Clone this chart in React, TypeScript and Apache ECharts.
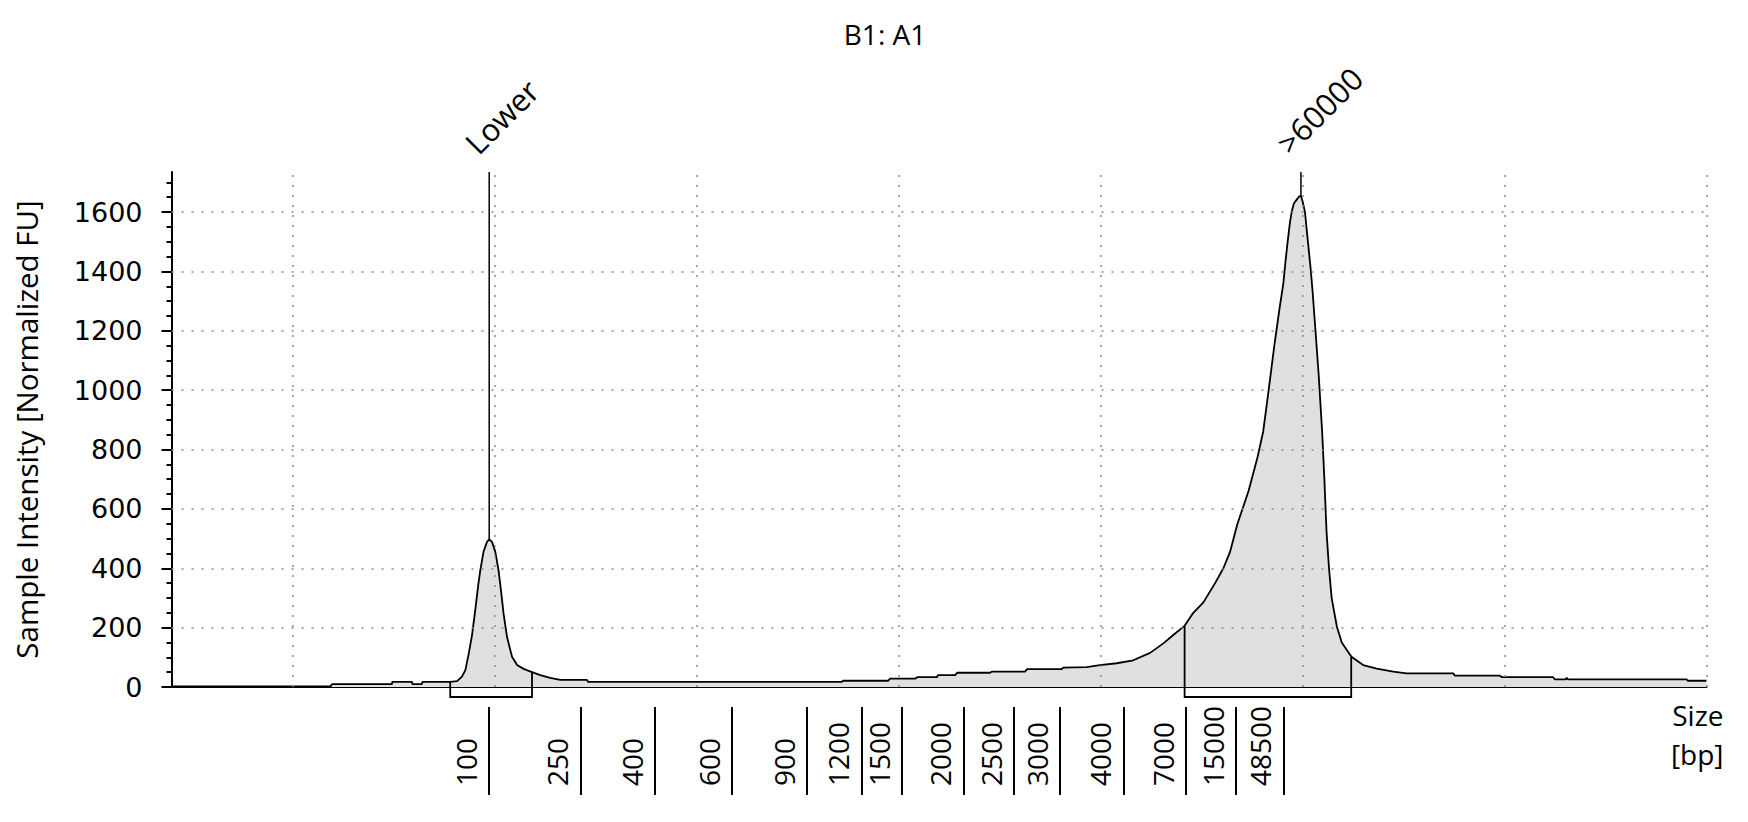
import React, { useEffect, useRef } from 'react';
import * as echarts from 'echarts';

const TITLE = 'B1: A1';
const Y_TITLE = 'Sample Intensity [Normalized FU]';
const X_TITLE = 'Size\n[bp]';

// migration position (grid units) and normalized intensity of the trace
const curvePos = [-0.6, 0.187, 0.196, 0.492, 0.493, 0.591, 0.592, 0.640, 0.642, 0.780, 0.814, 0.838, 0.855, 0.871, 0.888, 0.904, 0.919, 0.929, 0.945, 0.962, 0.973, 0.987, 1.003, 1.019, 1.031, 1.044, 1.061, 1.086, 1.111, 1.143, 1.185, 1.226, 1.275, 1.325, 1.457, 1.463, 2.719, 2.725, 2.948, 2.958, 3.082, 3.092, 3.189, 3.196, 3.280, 3.290, 3.453, 3.463, 3.626, 3.636, 3.808, 3.814, 3.931, 3.997, 4.080, 4.162, 4.245, 4.311, 4.360, 4.416, 4.459, 4.509, 4.567, 4.608, 4.641, 4.677, 4.733, 4.777, 4.805, 4.832, 4.860, 4.887, 4.905, 4.915, 4.926, 4.938, 4.946, 4.957, 4.971, 4.984, 4.992, 5.001, 5.012, 5.020, 5.030, 5.040, 5.050, 5.064, 5.080, 5.097, 5.108, 5.119, 5.131, 5.144, 5.170, 5.194, 5.242, 5.300, 5.367, 5.449, 5.515, 5.746, 5.754, 5.977, 5.987, 6.241, 6.249, 6.303, 6.308, 6.313, 6.901, 6.907, 7.0];
const curveVal = [2, 2, 10, 10, 17, 17, 10, 10, 17, 17, 20, 35, 57, 110, 175, 260, 345, 394, 456, 489, 497, 489, 456, 394, 327, 248, 169, 102, 74, 61, 50, 40, 31, 24, 24, 17, 17, 21, 21, 28, 28, 33, 33, 40, 40, 48, 48, 52, 52, 60, 60, 65, 67, 74, 80, 90, 115, 147, 175, 206, 250, 285, 350, 400, 455, 548, 661, 774, 860, 999, 1149, 1280, 1360, 1430, 1499, 1567, 1600, 1629, 1642, 1653, 1655, 1634, 1600, 1544, 1477, 1410, 1330, 1200, 1050, 860, 700, 520, 400, 300, 203, 150, 102, 74, 62, 52, 46, 46, 38, 38, 33, 33, 26, 26, 31, 26, 26, 21, 21];

const yMajor = [0, 200, 400, 600, 800, 1000, 1200, 1400, 1600];
const yMinor = [50, 100, 150, 250, 300, 350, 450, 500, 550, 650, 700, 750, 850, 900, 950, 1050, 1100, 1150, 1250, 1300, 1350, 1450, 1500, 1550, 1650, 1700];
const gridPos = [0, 1, 2, 3, 4, 5, 6, 7];

const ladderLabels = ['100', '250', '400', '600', '900', '1200', '1500', '2000', '2500', '3000', '4000', '7000', '15000', '48500'];
const ladderPos = [0.973, 1.425, 1.792, 2.175, 2.547, 2.816, 3.016, 3.321, 3.572, 3.799, 4.113, 4.421, 4.669, 4.905];

const markerNames = ['Lower', '>60000'];
const markerPos = [0.973, 4.992];
const markerPeak = [497, 1655];

const regionStart = [0.780, 4.416];
const regionEnd = [1.185, 5.241];

const X_MIN = -0.6;
const X_MAX = 7;
const Y_MAX = 1735;

function interp(x: number): number {
  for (let i = 0; i < curvePos.length - 1; i++) {
    if (x >= curvePos[i] && x <= curvePos[i + 1]) {
      const t = (x - curvePos[i]) / (curvePos[i + 1] - curvePos[i] || 1);
      return curveVal[i] + t * (curveVal[i + 1] - curveVal[i]);
    }
  }
  return 0;
}

export default function App() {
  const ref = useRef<HTMLDivElement>(null);
  useEffect(() => {
    if (!ref.current) return;
    const chart = echarts.init(ref.current, null, { renderer: 'svg' });
    const SEGOE = '"Open Sans", "Noto Sans", sans-serif';
    const TAHOMA = '"DejaVu Sans", Verdana, sans-serif';
    const curve = curvePos.map((p, i) => [p, curveVal[i]]);
    const regions = regionStart.map((s, i) => [s, regionEnd[i], interp(s), interp(regionEnd[i])]);
    const markers = markerPos.map((p, i) => [p, markerPeak[i]]);

    const option: any = {
      animation: false,
      backgroundColor: '#ffffff',
      title: {
        text: TITLE,
        left: 880,
        top: 15,
        textAlign: 'center',
        textStyle: { fontFamily: SEGOE, fontSize: 28, fontWeight: 'normal', color: '#000' },
      },
      grid: { left: 171.5, right: 41.5, top: 172, bottom: 135, containLabel: false, outerBoundsMode: 'none' },
      xAxis: [
        {
          type: 'value', min: X_MIN, max: X_MAX, position: 'bottom',
          axisLine: { show: true, onZero: false, lineStyle: { color: '#000', width: 2 } },
          axisTick: { show: false }, axisLabel: { show: false }, splitLine: { show: false },
          name: X_TITLE, nameLocation: 'end', nameGap: 17,
          nameTextStyle: { fontFamily: SEGOE, fontSize: 28, color: '#000', align: 'right', verticalAlign: 'top', lineHeight: 39, padding: [8, 0, 0, 0] },
        },
        {
          type: 'value', min: X_MIN, max: X_MAX, position: 'bottom', offset: 20,
          axisLine: { show: false, onZero: false },
          axisTick: { show: true, length: 88, customValues: ladderPos, lineStyle: { color: '#000', width: 2 } },
          axisLabel: {
            show: true, customValues: ladderPos, rotate: 90, align: 'left', verticalAlign: 'bottom',
            padding: [0, 0, 9, 0], margin: 79, fontSize: 28, fontFamily: SEGOE, color: '#000', lineHeight: 28,
            formatter: (v: number) => {
              let best = 0;
              ladderPos.forEach((p, i) => { if (Math.abs(p - v) < Math.abs(ladderPos[best] - v)) best = i; });
              return ladderLabels[best];
            },
          },
          splitLine: { show: false },
        },
      ],
      yAxis: [
        {
          type: 'value', min: 0, max: Y_MAX, position: 'left',
          axisLine: { show: true, onZero: false, lineStyle: { color: '#000', width: 2 } },
          axisTick: { show: true, length: 10, customValues: yMajor, lineStyle: { color: '#000', width: 2 } },
          axisLabel: { customValues: yMajor, margin: 29, fontSize: 27, fontFamily: TAHOMA, color: '#000', formatter: (v: number) => String(v) },
          splitLine: { show: false },
          name: Y_TITLE, nameLocation: 'middle', nameGap: 145,
          nameTextStyle: { fontFamily: SEGOE, fontSize: 29.5, color: '#000', verticalAlign: 'middle' },
        },
        {
          type: 'value', min: 0, max: Y_MAX, position: 'left',
          axisLine: { show: false, onZero: false },
          axisTick: { show: true, length: 5, customValues: yMinor, lineStyle: { color: '#000', width: 2 } },
          axisLabel: { show: false },
          splitLine: { show: false },
        },
      ],
      series: [
        {
          type: 'line', data: curve, symbol: 'none', showSymbol: false, silent: true, z: 1,
          lineStyle: { width: 0, opacity: 0 },
          areaStyle: { color: '#e0e0e0', opacity: 1 },
        },
        {
          type: 'line', data: [], symbol: 'none', silent: true, z: 2,
          markLine: {
            silent: true, symbol: ['none', 'none'], label: { show: false }, animation: false,
            lineStyle: { type: [2, 8], color: '#8a8a8a', width: 1.5 },
            data: [
              ...gridPos.map((x) => ({ xAxis: x })),
              ...yMajor.filter((v) => v > 0).map((y) => ({ yAxis: y })),
            ],
          },
        },
        {
          type: 'line', data: curve, symbol: 'none', showSymbol: false, silent: true, z: 3,
          lineStyle: { color: '#000', width: 1.8 },
        },
        {
          type: 'custom', data: regions, z: 4, silent: true, clip: false,
          encode: { x: [0, 1], y: [2, 3] },
          renderItem: (params: any, api: any) => {
            const s = api.value(0), e = api.value(1), hs = api.value(2), he = api.value(3);
            const p1 = api.coord([s, hs]);
            const b1 = api.coord([s, 0]);
            const p2 = api.coord([e, he]);
            const b2 = api.coord([e, 0]);
            const drop = 10;
            return {
              type: 'polyline',
              shape: { points: [p1, [b1[0], b1[1] + drop], [b2[0], b2[1] + drop], p2] },
              style: { stroke: '#000', lineWidth: 1.8, fill: 'none' },
            };
          },
        },
        {
          type: 'custom', data: markers, z: 5, silent: true, clip: false,
          encode: { x: 0, y: 1 },
          renderItem: (params: any, api: any) => {
            const x = api.value(0), peak = api.value(1);
            const bottom = api.coord([x, peak]);
            const top = api.coord([x, Y_MAX]);
            return {
              type: 'group',
              children: [
                { type: 'line', shape: { x1: bottom[0], y1: bottom[1], x2: top[0], y2: top[1] }, style: { stroke: '#000', lineWidth: 1.5 } },
                {
                  type: 'text', x: top[0] - 19, y: top[1] - 24, rotation: Math.PI / 4,
                  style: { text: markerNames[params.dataIndex], fontSize: 31, fontFamily: SEGOE, fill: '#000', align: 'left', verticalAlign: 'middle' },
                },
              ],
            };
          },
        },
      ],
    };
    chart.setOption(option);
    return () => chart.dispose();
  }, []);
  return <div ref={ref} style={{ position: 'fixed', left: 0, top: 0, width: 1748, height: 822, background: '#fff' }} />;
}
